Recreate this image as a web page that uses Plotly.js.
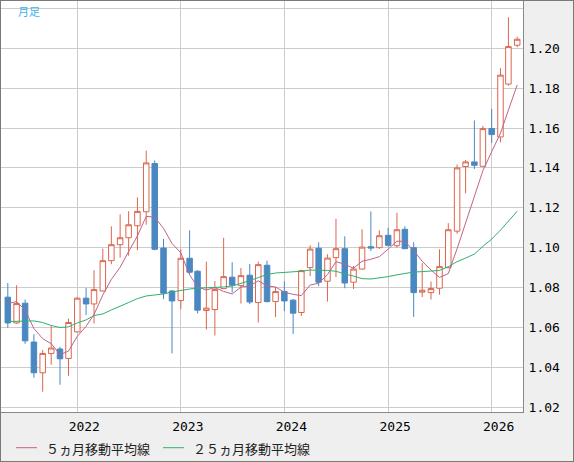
<!DOCTYPE html>
<html>
<head>
<meta charset="utf-8">
<script src="https://cdn.plot.ly/plotly-3.0.1.min.js"></script>
<style>
html,body{margin:0;padding:0;background:#efefef;}
#chart{width:572px;height:460px;border:1px solid #7a7a7a;}
</style>
</head>
<body>
<div id="chart"></div>
<script>
// monthly dates (categories)
const months = [
 '2021-05-01','2021-06-01','2021-07-01','2021-08-01','2021-09-01','2021-10-01','2021-11-01','2021-12-01',
 '2022-01-01','2022-02-01','2022-03-01','2022-04-01','2022-05-01','2022-06-01','2022-07-01','2022-08-01','2022-09-01','2022-10-01','2022-11-01','2022-12-01',
 '2023-01-01','2023-02-01','2023-03-01','2023-04-01','2023-05-01','2023-06-01','2023-07-01','2023-08-01','2023-09-01','2023-10-01','2023-11-01','2023-12-01',
 '2024-01-01','2024-02-01','2024-03-01','2024-04-01','2024-05-01','2024-06-01','2024-07-01','2024-08-01','2024-09-01','2024-10-01','2024-11-01','2024-12-01',
 '2025-01-01','2025-02-01','2025-03-01','2025-04-01','2025-05-01','2025-06-01','2025-07-01','2025-08-01','2025-09-01','2025-10-01','2025-11-01','2025-12-01',
 '2026-01-01','2026-02-01','2026-03-01','2026-04-01'
];
const openVals = [
 1.0752,1.0623,1.0722,1.0527,1.0373,1.0470,1.0492,1.0445,
 1.0578,1.0747,1.0718,1.0783,1.0935,1.1015,1.1050,1.1110,1.1180,1.1422,1.0998,1.0783,
 1.0735,1.0947,1.0882,1.0685,1.0690,1.0795,1.0852,1.0810,1.0862,1.0725,1.0912,1.0730,
 1.0780,1.0737,1.0675,1.0900,1.0997,1.0832,1.0950,1.0995,1.0827,1.0893,1.1005,1.1000,
 1.1062,1.1010,1.1092,1.1000,1.0777,1.0775,1.0797,1.0900,1.1083,1.1407,1.1430,1.1408,
 1.1597,1.1555,1.1820,1.2015
];
const highVals = [
 1.0823,1.0812,1.0740,1.0566,1.0487,1.0607,1.0503,1.0645,
 1.0753,1.0798,1.0887,1.0995,1.1107,1.1167,1.1183,1.1252,1.1487,1.1437,1.1045,1.0787,
 1.0992,1.1087,1.0887,1.0930,1.0833,1.1050,1.0927,1.0898,1.0918,1.0930,1.0935,1.0803,
 1.0832,1.0743,1.0890,1.1012,1.1027,1.0967,1.1145,1.1057,1.0908,1.1092,1.1182,1.1087,
 1.1100,1.1175,1.1107,1.1028,1.0922,1.0830,1.0992,1.1123,1.1417,1.1440,1.1638,1.1610,
 1.1696,1.1900,1.2155,1.2058
];
const lowVals = [
 1.0598,1.0618,1.0518,1.0348,1.0278,1.0413,1.0313,1.0358,
 1.0575,1.0663,1.0620,1.0780,1.0917,1.0950,1.0960,1.0988,1.1115,1.0987,1.0742,1.0470,
 1.0692,1.0870,1.0670,1.0590,1.0560,1.0793,1.0775,1.0720,1.0717,1.0625,1.0725,1.0652,
 1.0683,1.0568,1.0658,1.0857,1.0807,1.0730,1.0853,1.0797,1.0793,1.0890,1.0983,1.0995,
 1.1005,1.1000,1.0995,1.0653,1.0753,1.0740,1.0765,1.0897,1.1070,1.1273,1.1395,1.1405,
 1.1525,1.1528,1.1812,1.2005
];
const closeVals = [
 1.0623,1.0720,1.0533,1.0373,1.0470,1.0497,1.0443,1.0625,
 1.0747,1.0718,1.0790,1.0935,1.1015,1.1050,1.1115,1.1182,1.1425,1.0992,1.0772,1.0733,
 1.0947,1.0877,1.0687,1.0697,1.0790,1.0855,1.0812,1.0860,1.0728,1.0915,1.0730,1.0780,
 1.0733,1.0672,1.0885,1.0993,1.0827,1.0948,1.0995,1.0823,1.0893,1.1003,1.0998,1.1060,
 1.1012,1.1090,1.0995,1.0775,1.0787,1.0795,1.0905,1.1090,1.1400,1.1430,1.1413,1.1597,
 1.1567,1.1865,1.2008,1.2045
];
const ma5 = [
 1.0720,1.0730,1.0687,1.0595,1.0544,1.0519,1.0463,1.0482,1.0556,1.0606,
 1.0665,1.0763,1.0841,1.0902,1.0981,1.1059,1.1157,1.1153,1.1097,1.1021,
 1.0974,1.0864,1.0803,1.0788,1.0800,1.0781,1.0768,1.0803,1.0809,1.0834,
 1.0809,1.0803,1.0777,1.0766,1.0760,1.0813,1.0822,1.0865,1.0930,1.0917,
 1.0897,1.0932,1.0942,1.0955,1.0993,1.1033,1.1031,1.0986,1.0932,1.0888,
 1.0851,1.0870,1.0995,1.1124,1.1248,1.1386,1.1481,1.1574,1.1690,1.1816
];
const ma25 = [
 1.0630,1.0632,1.0633,1.0633,1.0625,1.0610,1.0600,1.0603,1.0623,1.0638,
 1.0660,1.0668,1.0688,1.0705,1.0725,1.0745,1.0758,1.0763,1.0768,1.0778,
 1.0787,1.0793,1.0797,1.0798,1.0800,1.0803,1.0808,1.0820,1.0835,1.0850,
 1.0866,1.0873,1.0875,1.0877,1.0882,1.0888,1.0888,1.0886,1.0882,1.0868,
 1.0858,1.0845,1.0843,1.0848,1.0855,1.0864,1.0872,1.0878,1.0880,1.0882,
 1.0886,1.0905,1.0930,1.0948,1.0968,1.1007,1.1043,1.1088,1.1133,1.1183
];
const yTickVals = [1.02,1.04,1.06,1.08,1.10,1.12,1.14,1.16,1.18,1.20,1.22];
const yTickText = ['1.02','1.04','1.06','1.08','1.10','1.12','1.14','1.16','1.18','1.20',''];
const periodLabel = '月足';
const legendNames = ['５ヵ月移動平均線','２５ヵ月移動平均線'];

const upColor = '#db664c';
const downColor = '#4a88c2';
const ma5Color = '#c0628c';
const ma25Color = '#2fb070';

const traces = [
  {
    type: 'candlestick', x: months, open: openVals, high: highVals, low: lowVals, close: closeVals,
    increasing: {line: {color: upColor, width: 1}, fillcolor: '#ffffff'},
    decreasing: {line: {color: downColor, width: 1}, fillcolor: downColor},
    whiskerwidth: 0, showlegend: false, hoverinfo: 'skip'
  },
  {type: 'scatter', mode: 'lines', x: months, y: ma5, name: legendNames[0],
   line: {color: ma5Color, width: 1}, showlegend: false, hoverinfo: 'skip'},
  {type: 'scatter', mode: 'lines', x: months, y: ma25, name: legendNames[1],
   line: {color: ma25Color, width: 1}, showlegend: false, hoverinfo: 'skip'}
];

const W = 522, H = 411;
function px(X){ return (X - 1) / W; }
function py(Y){ return (412 - Y) / H; }

const tickFont = {family: 'DejaVu Sans Mono, monospace', size: 13, color: '#000'};
const legFont = {family: 'Noto Sans CJK JP, sans-serif', size: 13, color: '#222'};

const layout = {
  width: 572, height: 460,
  margin: {l: 0, r: 50, t: 0, b: 49, pad: 0},
  paper_bgcolor: '#efefef', plot_bgcolor: '#ffffff',
  showlegend: false,
  boxgap: 0.3, boxgroupgap: 0.01,
  xaxis: {
    type: 'date', range: ['2021-04-07', '2026-04-21 10:00'],
    rangeslider: {visible: false},
    tick0: '2022-01-01', dtick: 'M12', tickformat: '%Y',
    showgrid: true, gridcolor: '#cccccc', gridwidth: 1,
    showline: true, linecolor: '#888888', linewidth: 1,
    ticks: '', tickfont: tickFont, ticklabelshift: 7, ticklabelstandoff: 2,
    zeroline: false, fixedrange: true
  },
  yaxis: {
    side: 'right', range: [1.01764, 1.22366],
    tickmode: 'array', tickvals: yTickVals, ticktext: yTickText,
    showgrid: true, gridcolor: '#cccccc', gridwidth: 1,
    showline: true, linecolor: '#888888', linewidth: 1,
    ticks: '', tickfont: tickFont, ticklabelstandoff: 2,
    zeroline: false, fixedrange: true
  },
  shapes: [
    {type: 'line', xref: 'paper', yref: 'paper', x0: px(16), x1: px(37), y0: py(447.7), y1: py(447.7),
     line: {color: ma5Color, width: 1}},
    {type: 'line', xref: 'paper', yref: 'paper', x0: px(163), x1: px(184), y0: py(447.7), y1: py(447.7),
     line: {color: ma25Color, width: 1}}
  ],
  annotations: [
    {xref: 'paper', yref: 'paper', x: px(15.5), y: py(10.5), xanchor: 'left', yanchor: 'middle',
     text: periodLabel, showarrow: false, font: {family: 'Noto Sans CJK JP, sans-serif', size: 11, color: '#3cb3ee'}},
    {xref: 'paper', yref: 'paper', x: px(43.5), y: py(448.7), xanchor: 'left', yanchor: 'middle',
     text: legendNames[0], showarrow: false, font: legFont},
    {xref: 'paper', yref: 'paper', x: px(191), y: py(448.7), xanchor: 'left', yanchor: 'middle',
     text: legendNames[1], showarrow: false, font: legFont}
  ]
};

Plotly.newPlot('chart', traces, layout, {displayModeBar: false, staticPlot: true});
</script>
</body>
</html>
